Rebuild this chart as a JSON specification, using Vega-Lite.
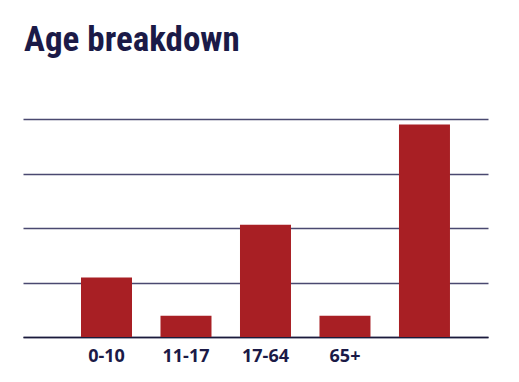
{
  "$schema": "https://vega.github.io/schema/vega-lite/v6.json",
  "width": 465,
  "height": 218,
  "autosize": "none",
  "padding": {"left": 23, "top": 119, "right": 31, "bottom": 45},
  "background": "white",
  "title": {
    "text": "Age breakdown",
    "anchor": "start",
    "frame": "group",
    "font": "Roboto Condensed, DejaVu Sans Condensed, Liberation Sans Narrow, Roboto",
    "fontSize": 35,
    "fontWeight": "bold",
    "color": "#1b1a47",
    "offset": 61,
    "dx": 1
  },
  "data": {
    "values": [
      {"group": "0-10", "value": 10.9},
      {"group": "11-17", "value": 3.9},
      {"group": "17-64", "value": 20.6},
      {"group": "65+", "value": 3.9},
      {"group": " ", "value": 39.0}
    ]
  },
  "config": {
    "view": {"stroke": null}
  },
  "mark": {"type": "bar", "color": "#a81f24"},
  "encoding": {
    "x": {
      "field": "group",
      "type": "nominal",
      "sort": null,
      "scale": {"paddingInner": 0.3585, "paddingOuter": 0.604, "align": 0.604},
      "axis": {
        "title": null,
        "labelAngle": 0,
        "domain": true,
        "domainColor": "#1a1a3a",
        "domainWidth": 1.5,
        "ticks": false,
        "labelFont": "Open Sans",
        "labelFontWeight": "bold",
        "labelFontSize": 18,
        "labelColor": "#1b1a47",
        "labelPadding": 10
      }
    },
    "y": {
      "field": "value",
      "type": "quantitative",
      "scale": {"domain": [0, 40]},
      "axis": {
        "title": null,
        "labels": false,
        "ticks": false,
        "domain": false,
        "values": [0, 10, 20, 30, 40],
        "grid": true,
        "gridColor": "#4a4970",
        "gridWidth": 1.5
      }
    }
  }
}
